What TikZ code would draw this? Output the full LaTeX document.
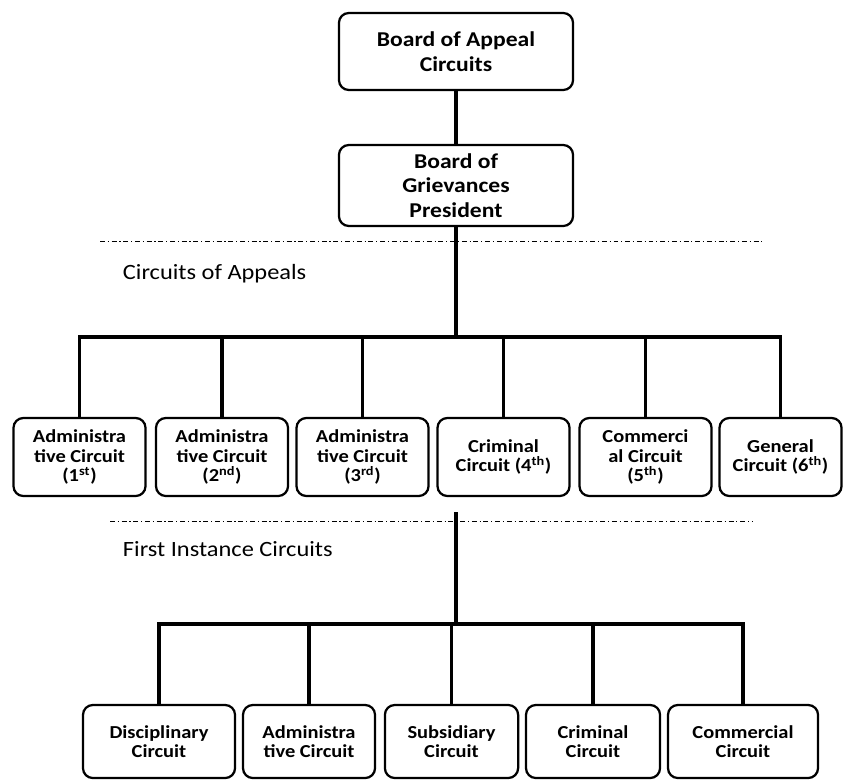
\documentclass[tikz,border=0pt]{standalone}
\usepackage{fontspec}
\setmainfont{Carlito}[FakeStretch=1.12]
\usetikzlibrary{calc}

\begin{document}
\begin{tikzpicture}[x=0.025cm, y=-0.025cm,
  every node/.style={font=\bfseries\fontsize{13}{14}\selectfont},
  unit/.style={draw, line width=1.6pt, rounded corners=7pt, align=center, minimum width=3.3cm, minimum height=1.95cm, inner sep=1pt},
  court/.style={unit, minimum height=1.825cm},
  head/.style={unit, minimum width=5.85cm, font=\bfseries\fontsize{15}{17.5}\selectfont},
  conn/.style={line width=2.6pt},
  tier/.style={line width=0.6pt, dash pattern=on 3.5pt off 2pt on 0.8pt off 2pt},
  tierlabel/.style={anchor=west, font=\fontsize{15.5}{18}\selectfont}]
  \useasboundingbox (0,0) rectangle (845,781);
  \node[head, minimum height=1.925cm] (appealboard) at (456,51.5) {Board of Appeal\\Circuits};
  \node[head, minimum height=2.025cm] (president) at (456,185.5) {Board of\\Grievances\\President};
  \draw[tier] (100,241) -- (762,241);
  \node[tierlabel] (appealslabel) at (118,274) {Circuits of Appeals};
  \node[unit] (adm1) at (79.5,457) {Administra\\tive Circuit\\(1\textsuperscript{st})};
  \node[unit] (adm2) at (222,457) {Administra\\tive Circuit\\(2\textsuperscript{nd})};
  \node[unit] (adm3) at (362.5,457) {Administra\\tive Circuit\\(3\textsuperscript{rd})};
  \node[unit] (crim4) at (503.5,457) {Criminal\\Circuit (4\textsuperscript{th})};
  \node[unit] (comm5) at (645.5,457) {Commerci\\al Circuit\\(5\textsuperscript{th})};
  \node[unit, minimum width=3.05cm] (gen6) at (780.5,457) {General\\Circuit (6\textsuperscript{th})};
  \draw[tier] (110,521) -- (753,521);
  \node[tierlabel] (firstlabel) at (118,549) {First Instance Circuits};
  \node[court, minimum width=3.8cm] (disc) at (159,741.5) {Disciplinary\\Circuit};
  \node[court] (admin) at (309,741.5) {Administra\\tive Circuit};
  \node[court, minimum width=3.33cm] (subs) at (451.5,741.5) {Subsidiary\\Circuit};
  \node[court, minimum width=3.35cm] (crim) at (593,741.5) {Criminal\\Circuit};
  \node[court, minimum width=3.75cm] (comm) at (743,741.5) {Commercial\\Circuit};
  \coordinate (appealbar) at (456,337);
  \coordinate (stub) at (456,512);
  \coordinate (firstbar) at (456,624);
  \draw[conn] (appealboard) -- (president);
  \draw[conn] (president) -- (appealbar);
  \foreach \c in {adm1,adm2,adm3,crim4,comm5,gen6}
    \draw[conn] (\c.north) |- (appealbar);
  \draw[conn] (stub) -- (firstbar);
  \foreach \c in {disc,admin,subs,crim,comm}
    \draw[conn] (\c.north) |- (firstbar);
\end{tikzpicture}
\end{document}
